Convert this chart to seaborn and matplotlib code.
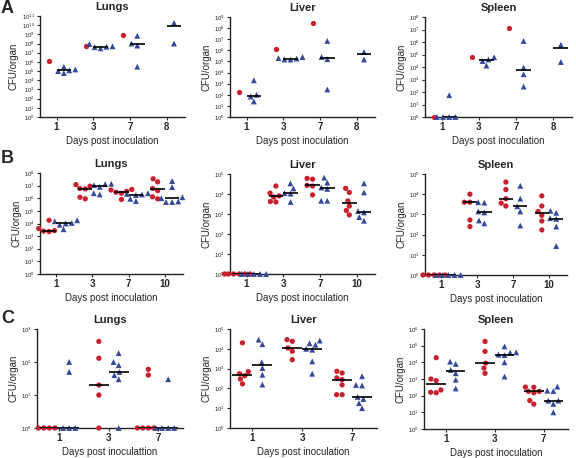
import numpy as np
import pandas as pd
import matplotlib
matplotlib.use("Agg")
import matplotlib.pyplot as plt
import seaborn as sns
from matplotlib.ticker import NullLocator

# ---- data: CFU per organ, red = circles, blue = triangles, one list per day ----
a_days = ["1", "3", "7", "8"]
a_lungs_red = [[1.3e6], [5e7], [8e8], []]
a_lungs_blue = [[3e5, 1.5e5, 1.2e5, 1e5, 6e4], [9e7, 5e7, 4.5e7, 4e7, 3e7],
                [7e8, 1e8, 6e7, 3e5], [1.8e10, 1e8]]
a_liver_red = [[180], [1.3e6], [2.7e8], []]
a_liver_blue = [[2e3, 100, 70, 25], [2.5e5, 2e5, 1.8e5, 1.5e5, 1.5e5],
                [7e6, 2.5e5, 1.6e5, 300], [7e5, 1.5e5]]
a_spleen_red = [[1], [6.6e4], [1.3e7], []]
a_spleen_blue = [[55, 1, 1, 1, 1], [6e4, 4e4, 3e4, 1.3e4],
                 [1.2e6, 9e3, 2.6e3, 270], [6e5, 2.5e4]]

b_days = ["1", "3", "7", "10"]
b_lungs_red = [[1.8e4, 4e3, 2.7e3, 2.5e3, 2.3e3], [1.2e7, 9e6, 6e6, 5.5e6, 1.2e6, 9e5],
               [5e6, 4.5e6, 3.5e6, 3e6, 2.5e6, 8e5], [3.5e7, 2e7, 6e6, 4e6, 1.3e6, 9e5]]
b_lungs_blue = [[1.8e4, 1.5e4, 1.1e4, 1e4, 8e3, 3.5e3], [1.4e7, 1.3e7, 1.1e7, 8e6, 2.5e6, 2e6],
                [2.5e6, 2.2e6, 2e6, 1.8e6, 9e5, 6e5], [2.3e7, 7.6e6, 1.2e6, 1e6, 5.5e5, 5e5, 5e5]]
b_liver_red = [[1, 1, 1, 1, 1, 1], [2.5e4, 1.1e4, 8e3, 7e3, 4.2e3, 4e3],
               [6e4, 5.5e4, 2.7e4, 2.5e4, 9e3], [1.9e4, 1.2e4, 4.5e3, 2.5e3, 1.5e3, 900]]
b_liver_blue = [[1, 1, 1, 1, 1], [3.4e4, 1.9e4, 1.1e4, 1.05e4, 4e3],
                [6.6e4, 3.7e4, 2.1e4, 1.8e4, 4.6e3, 4.6e3], [3.4e4, 1.2e4, 1.4e3, 1.2e3, 700, 460]]
b_spleen_red = [[1, 1, 1, 1, 1], [1e4, 4e3, 4e3, 530, 250],
                [4e4, 1.7e4, 6e3, 3.6e3, 2.6e3], [8.3e3, 2.6e3, 1.4e3, 900, 470, 170]]
b_spleen_blue = [[1, 1, 1, 1, 1], [4e3, 3.8e3, 1.4e3, 1.25e3, 500, 360],
                 [2.6e4, 6e3, 2.5e3, 1.4e3, 280], [1.5e3, 1.2e3, 650, 600, 250, 27]]

c_days = ["1", "3", "7"]
c_lungs_red = [[1, 1, 1, 1], [420, 130, 20, 10, 1], [60, 40, 1, 1, 1, 1]]
c_lungs_blue = [[100, 50, 1, 1, 1], [185, 100, 80, 50, 40, 30, 1], [30, 1, 1, 1, 1]]
c_liver_red = [[2e4, 700, 550, 440, 300, 170], [2.9e4, 2.4e4, 1.1e4, 7.5e3, 2.8e3],
               [730, 600, 340, 280, 150, 48, 48]]
c_liver_blue = [[2.9e4, 1.7e4, 2.1e3, 1.07e3, 490, 155], [2.6e4, 1.9e4, 1.6e4, 1e4, 9e3, 2.3e3, 550],
                [410, 150, 140, 37, 29, 18, 10]]
c_spleen_red = [[1.9e4, 1e3, 800, 220, 160, 150], [1.8e5, 4.5e4, 9e3, 4.5e3, 2.2e3],
                [330, 320, 180, 180, 150, 51, 31]]
c_spleen_blue = [[1.1e4, 8e3, 3.5e3, 2.2e3, 900, 270], [9e4, 4e4, 3.8e4, 2.9e4, 2.7e4, 1e4, 1.4e3],
                 [350, 200, 190, 51, 50, 32, 10]]

# ---- style ----
sns.set_style("ticks")
plt.rcParams["font.family"] = ["Liberation Sans", "DejaVu Sans"]
plt.rcParams["mathtext.default"] = "regular"

palette = {"red": "#c8202d", "blue": "#34499a"}
groups = ["red", "blue"]

fig = plt.figure(figsize=(5.76, 4.58), dpi=100)
W, H = 576, 458


def make_ax(left, right, top, bottom):
    return fig.add_axes([left / W, 1 - bottom / H, (right - left) / W, (bottom - top) / H])


def panel(ax, days, red, blue, top_exp, title, xlabel):
    rows = []
    for d, r, b in zip(days, red, blue):
        rows += [(d, "red", v) for v in r]
        rows += [(d, "blue", v) for v in b]
    df = pd.DataFrame(rows, columns=["day", "group", "cfu"])

    # median of each group (only where more than one animal)
    med = df.groupby(["day", "group"])["cfu"].agg(["median", "count"]).reset_index()
    med = med[med["count"] > 1]

    for grp, mk, sz in [("red", "o", 3.8), ("blue", "^", 4.2)]:
        sns.swarmplot(data=df[df["group"] == grp], x="day", y="cfu", hue="group",
                      order=days, hue_order=groups, palette=palette, dodge=True,
                      marker=mk, size=sz, linewidth=0, log_scale=True,
                      legend=False, ax=ax)
    for coll in ax.collections:
        coll.set_clip_on(False)

    sns.boxplot(data=med, x="day", y="median", hue="group", order=days,
                hue_order=groups, dodge=True, width=0.8, showbox=False,
                showcaps=False, showfliers=False, whiskerprops={"visible": False},
                medianprops={"color": "black", "linewidth": 1.2, "zorder": 5},
                log_scale=True, legend=False, ax=ax)

    ax.set_ylim(1, 10 ** top_exp)
    ax.set_xlim(-0.45, len(days) - 0.5)
    ticks = [10 ** k for k in range(top_exp + 1)]
    ax.set_yticks(ticks)
    ax.set_yticklabels([f"$10^{{{k}}}$" for k in range(top_exp + 1)], fontsize=4.3)
    ax.yaxis.set_minor_locator(NullLocator())
    ax.set_xticks(range(len(days)))
    ax.set_xticklabels(days, fontsize=7, fontweight="bold")
    ax.tick_params(axis="both", direction="out", length=2.5, width=0.8, pad=1.2)
    sns.despine(ax=ax)
    for s in ["left", "bottom"]:
        ax.spines[s].set_linewidth(1.0)
        ax.spines[s].set_color("#222222")
    ax.set_title(title, fontsize=8, fontweight="bold", pad=4)
    ax.set_xlabel(xlabel, fontsize=7, labelpad=3)
    ax.set_ylabel("CFU/organ", fontsize=7, labelpad=2)


xl = "Days post inoculation"

panel(make_ax(40, 185, 16, 117), a_days, a_lungs_red, a_lungs_blue, 11, "Lungs", xl)
panel(make_ax(230, 375, 17, 117), a_days, a_liver_red, a_liver_blue, 9, "Liver", xl)
panel(make_ax(425, 572, 17, 117), a_days, a_spleen_red, a_spleen_blue, 8, "Spleen", xl)

panel(make_ax(40, 183, 173, 274), b_days, b_lungs_red, b_lungs_blue, 8, "Lungs", xl)
panel(make_ax(230, 375, 174, 274), b_days, b_liver_red, b_liver_blue, 5, "Liver", xl)
panel(make_ax(425, 567, 174, 275), b_days, b_spleen_red, b_spleen_blue, 5, "Spleen", xl)

panel(make_ax(37, 183, 329, 428), c_days, c_lungs_red, c_lungs_blue, 3, "Lungs", "Days post inoculattion")
panel(make_ax(230, 377, 329, 428), c_days, c_liver_red, c_liver_blue, 5, "Liver", xl)
panel(make_ax(424, 568, 329, 429), c_days, c_spleen_red, c_spleen_blue, 6, "Spleen", xl)

for letter, ypx in [("A", 0), ("B", 150), ("C", 310)]:
    fig.text(1 / W, 1 - ypx / H, letter, fontsize=13, fontweight="bold", va="top", ha="left")

fig.savefig("out.png", dpi=100)
